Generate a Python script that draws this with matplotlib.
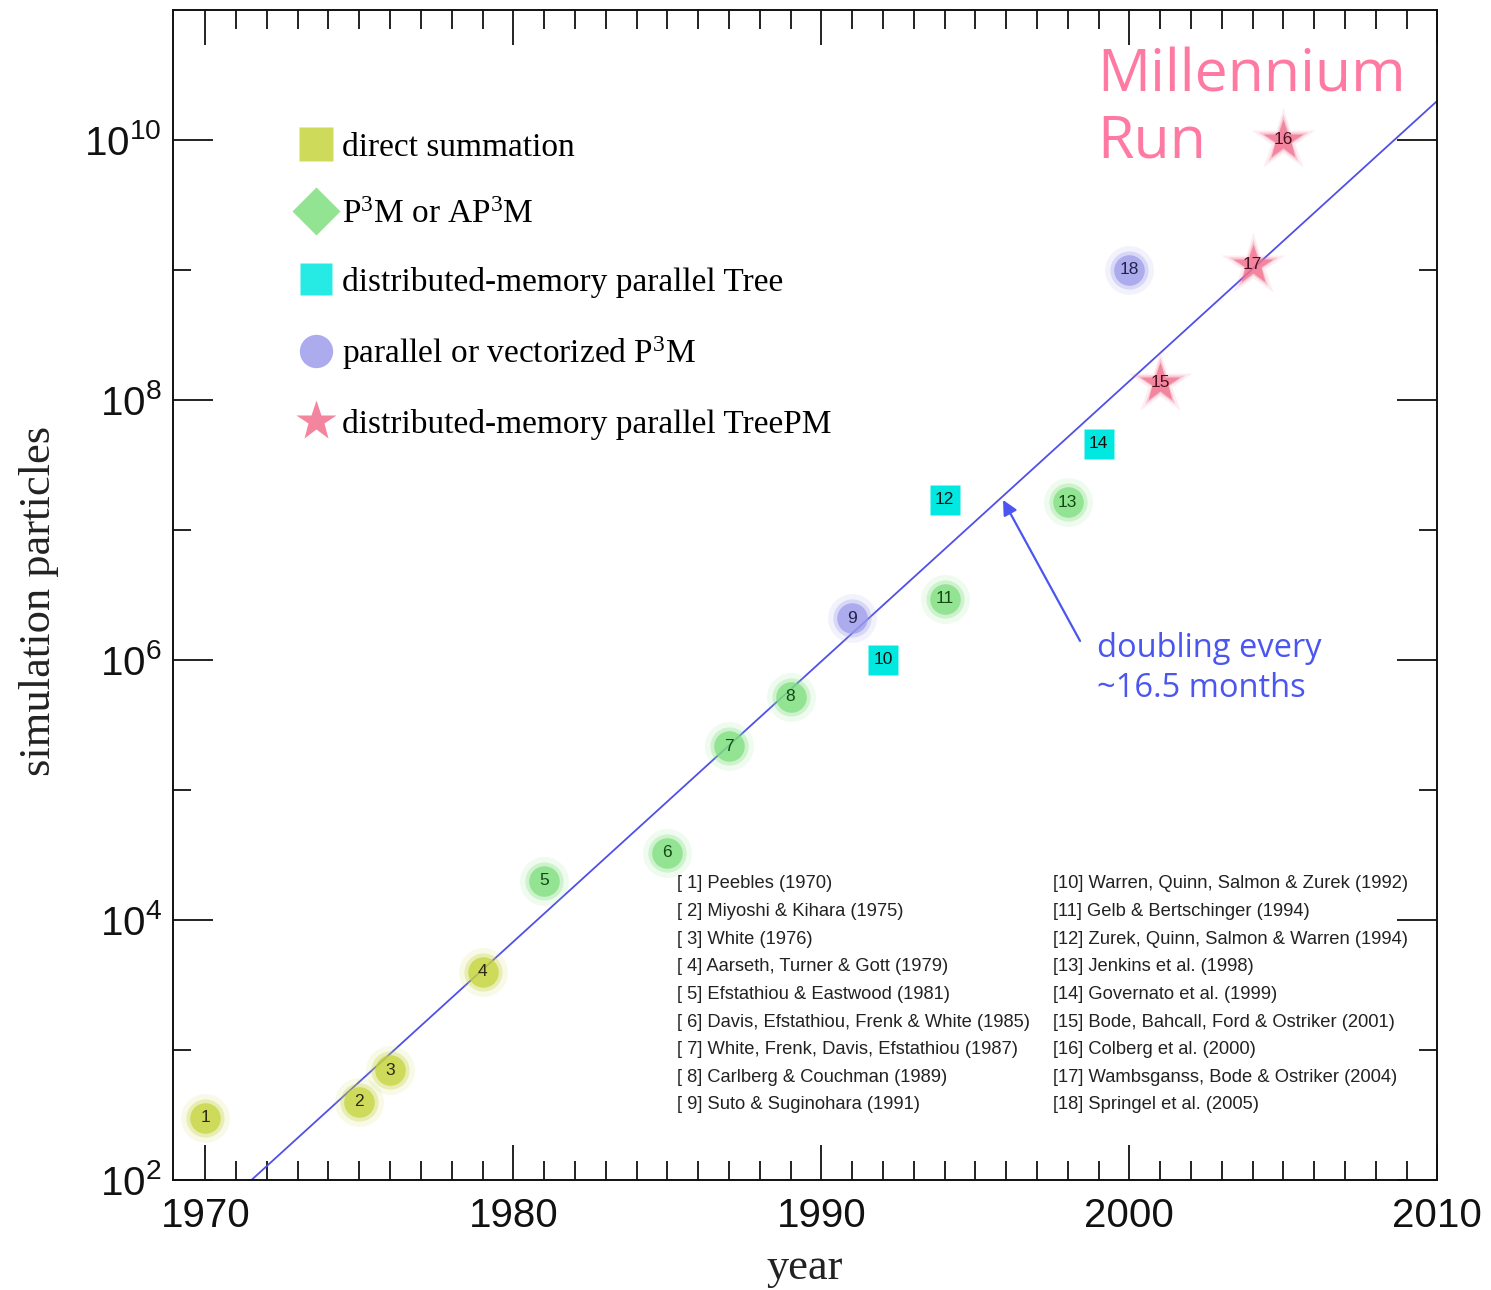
import math
import matplotlib
matplotlib.use("Agg")
import matplotlib.pyplot as plt
from matplotlib.lines import Line2D
from matplotlib.ticker import FixedLocator, NullFormatter, FuncFormatter

plt.rcParams['mathtext.default'] = 'regular'

# simulations: year, particle number, method category, label drawn on the marker
years = [1970, 1975, 1976, 1979, 1981, 1985, 1987, 1989, 1991, 1992,
         1994, 1994, 1998, 1999, 2001, 2000, 2004, 2005]
particles = [300, 400, 700, 4000, 2.0e4, 3.3e4, 2.16e5, 5.2e5, 2.1e6, 1.0e6,
             2.95e6, 1.7e7, 1.64e7, 4.6e7, 1.35e8, 1.0e9, 1.1e9, 1.0e10]
methods = [0, 0, 0, 0, 1, 1, 1, 1, 3, 2, 1, 2, 1, 2, 4, 3, 4, 4]
point_labels = ['1', '2', '3', '4', '5', '6', '7', '8', '9', '10', '11', '12',
                '13', '14', '15', '18', '17', '16']

method_names = ['direct summation',
                r'P$^{3}$M or AP$^{3}$M',
                'distributed-memory parallel Tree',
                r'parallel or vectorized P$^{3}$M',
                'distributed-memory parallel TreePM']
method_colors = ['#c6d43c', '#7fe07f', '#00e8e0', '#9c9ceb', '#f2708e']
label_colors = ['#2a2a10', '#124a12', '#111111', '#22224a', '#4a1020']
method_markers = ['o', 'o', 's', 'o', '*']
legend_markers = ['s', 'D', 's', 'o', '*']
method_sizes = [22, 22, 21, 22, 30]
method_glow = [True, True, False, True, True]

# fitted trend, doubling every ~16.5 months
trend_years = [1971.5, 2010.0]
trend_particles = [1.0e2, 2.0e10]

references = [
    '[ 1] Peebles (1970)',
    '[ 2] Miyoshi & Kihara (1975)',
    '[ 3] White (1976)',
    '[ 4] Aarseth, Turner & Gott (1979)',
    '[ 5] Efstathiou & Eastwood (1981)',
    '[ 6] Davis, Efstathiou, Frenk & White (1985)',
    '[ 7] White, Frenk, Davis, Efstathiou (1987)',
    '[ 8] Carlberg & Couchman (1989)',
    '[ 9] Suto & Suginohara (1991)',
    '[10] Warren, Quinn, Salmon & Zurek (1992)',
    '[11] Gelb & Bertschinger (1994)',
    '[12] Zurek, Quinn, Salmon & Warren (1994)',
    '[13] Jenkins et al. (1998)',
    '[14] Governato et al. (1999)',
    '[15] Bode, Bahcall, Ford & Ostriker (2001)',
    '[16] Colberg et al. (2000)',
    '[17] Wambsganss, Bode & Ostriker (2004)',
    '[18] Springel et al. (2005)',
]

x_major = [1970, 1980, 1990, 2000, 2010]
x_minor = list(range(1970, 2011))
y_major = [1e2, 1e4, 1e6, 1e8, 1e10]
y_minor = [1e3, 1e5, 1e7, 1e9]

fig = plt.figure(figsize=(14.91, 12.90), dpi=100)
ax = fig.add_axes([0.116, 0.0853, 0.848, 0.907])
ax.set_yscale('log')
ax.set_xlim(1968.95, 2010)
ax.set_ylim(1e2, 1e11)

ax.plot(trend_years, trend_particles, color='#5050e8', lw=1.3, zorder=2)

for i in range(len(years)):
    m = methods[i]
    c = method_colors[m]
    mk = method_markers[m]
    ms = method_sizes[m]
    if method_glow[m]:
        ax.plot(years[i], particles[i], marker=mk, ms=ms * 1.6, color=c,
                alpha=0.12, mec='none', zorder=3)
        ax.plot(years[i], particles[i], marker=mk, ms=ms * 1.25, color=c,
                alpha=0.3, mec='none', zorder=3)
        ax.plot(years[i], particles[i], marker=mk, ms=ms, color=c,
                alpha=0.75, mec='none', zorder=3)
    else:
        ax.plot(years[i], particles[i], marker=mk, ms=ms, color=c,
                mec='none', zorder=3)
    ax.text(years[i], particles[i], point_labels[i], fontsize=12.5,
            family='Liberation Sans', color=label_colors[m], ha='center',
            va='center', zorder=4)

handles = [Line2D([], [], ls='none', marker=legend_markers[k],
                  ms=method_sizes[k] + 2 if k < 4 else 30,
                  color=method_colors[k], mec='none', alpha=0.85)
           for k in range(len(method_names))]
ax.legend(handles, method_names, loc='upper left',
          bbox_to_anchor=(0.076, 0.921), frameon=False,
          prop={'family': 'Liberation Serif', 'size': 24},
          handlelength=1.0, handletextpad=0.3, labelspacing=1.1)

for k, ref in enumerate(references):
    col = k // 9
    row = k % 9
    ax.text(0.3987 + col * 0.2975, 0.253 - row * 0.0236, ref,
            transform=ax.transAxes, fontsize=13.2, family='Liberation Sans',
            color='#222222', ha='left', va='center')

ax.annotate('', xy=(1995.9, 1.7e7), xytext=(1998.4, 1.4e6),
            arrowprops=dict(arrowstyle='-|>', color='#4b55f0', lw=1.6,
                            mutation_scale=22, shrinkA=0, shrinkB=0))
ax.text(1998.95, 1.05e6, 'doubling every', fontsize=23.5,
        family='Open Sans', color='#4b55f0', ha='left', va='baseline')
ax.text(1998.95, 5.2e5, '~16.5 months', fontsize=23.5,
        family='Open Sans', color='#4b55f0', ha='left', va='baseline')
ax.text(1998.95, 2.34e10, 'Millennium', fontsize=42.5,
        family='Open Sans', color='#ff7aa2', ha='left', va='baseline')
ax.text(1998.95, 7.3e9, 'Run', fontsize=42.5,
        family='Open Sans', color='#ff7aa2', ha='left', va='baseline')

ax.xaxis.set_major_locator(FixedLocator(x_major))
ax.xaxis.set_minor_locator(FixedLocator(x_minor))
ax.yaxis.set_major_locator(FixedLocator(y_major))
ax.yaxis.set_minor_locator(FixedLocator(y_minor))
ax.yaxis.set_minor_formatter(NullFormatter())
ax.yaxis.set_major_formatter(FuncFormatter(
    lambda v, p: r'$10^{%d}$' % round(math.log10(v))))

ax.tick_params(which='both', direction='in', top=True, right=True,
               width=1.3, color='#111111', labelsize=29)
ax.tick_params(axis='x', which='major', length=25, pad=12)
ax.tick_params(axis='x', which='minor', length=14)
ax.tick_params(axis='y', which='major', length=29, pad=8)
ax.tick_params(axis='y', which='minor', length=13)
for lab in ax.get_xticklabels() + ax.get_yticklabels():
    lab.set_family('Liberation Sans')
    lab.set_color('#111111')
for sp in ax.spines.values():
    sp.set_linewidth(1.4)
    sp.set_color('#111111')

ax.set_xlabel('year', family='Liberation Serif', fontsize=32, color='#222222')
ax.set_ylabel('simulation particles', family='Liberation Serif', fontsize=32,
              color='#222222')
ax.xaxis.set_label_coords(0.5, -0.058)
ax.yaxis.set_label_coords(-0.090, 0.495)

fig.savefig('out.png', dpi=100, facecolor='white')
